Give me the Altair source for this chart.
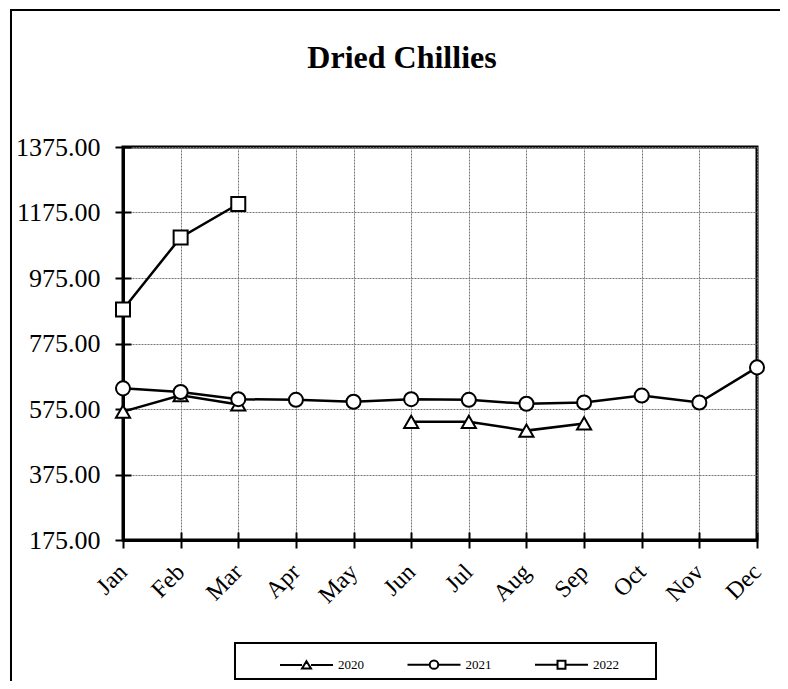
import altair as alt
import pandas as pd

months = ["Jan", "Feb", "Mar", "Apr", "May", "Jun", "Jul", "Aug", "Sep", "Oct", "Nov", "Dec"]
series_names = ["2020", "2021", "2022"]
v2020 = [567, 617, 589, None, None, 536, 536, 509, 531, None, None, None]
v2021 = [638, 627, 605, 603, 597, 605, 603, 591, 595, 616, 595, 702]
v2022 = [879, 1099, 1201, None, None, None, None, None, None, None, None, None]
y_ticks = [175, 375, 575, 775, 975, 1175, 1375]
title_text = "Dried Chillies"

rows = []
for name, vals in zip(series_names, [v2020, v2021, v2022]):
    for m, v in zip(months, vals):
        rows.append({"month": m, "series": name, "value": v})
df = pd.DataFrame(rows)
df["value"] = df["value"].astype(float)

FONT = "Liberation Serif"

x_scale = alt.Scale(type="point", padding=0, domain=months)
y_scale = alt.Scale(domain=[175, 1375], nice=False, zero=False)

x_main = alt.X(
    "month:N", scale=x_scale,
    axis=alt.Axis(
        title=None, labelAngle=315, labelAlign="right", labelBaseline="middle",
        labelFont=FONT, labelFontSize=24, labelColor="black", labelPadding=20,
        tickSize=8, tickColor="black", tickWidth=2,
        domainColor="black", domainWidth=3,
        grid=True, gridColor="#777777", gridDash=[2, 1], gridWidth=1,
    ),
)
y_main = alt.Y(
    "value:Q", scale=y_scale,
    axis=alt.Axis(
        title=None, values=y_ticks, format=".2f",
        labelFont=FONT, labelFontSize=26, labelColor="black", labelPadding=15,
        tickSize=8, tickColor="black", tickWidth=2,
        domainColor="black", domainWidth=3,
        grid=True, gridColor="#777777", gridDash=[2, 1], gridWidth=1,
    ),
)
x_plain = alt.X("month:N", scale=x_scale, axis=None)
y_plain = alt.Y("value:Q", scale=y_scale, axis=None)

lines = alt.Chart(df).mark_line(
    color="black", strokeWidth=2.5, invalid="break-paths-filter-domains"
).encode(x=x_main, y=y_main, detail="series:N")

# inner half of the crossing tick marks
inner_ticks = alt.Chart(df).transform_filter("false").mark_point(opacity=0).encode(
    x=alt.X("month:N", scale=x_scale, axis=alt.Axis(
        orient="bottom", offset=-8, labels=False, domain=False, grid=False,
        tickSize=8, tickColor="black", tickWidth=2, title=None)),
    y=alt.Y("value:Q", scale=y_scale, axis=alt.Axis(
        orient="left", offset=-8, values=y_ticks, labels=False, domain=False, grid=False,
        tickSize=8, tickColor="black", tickWidth=2, title=None)),
)

points = alt.Chart(df).mark_point(
    filled=True, fill="white", stroke="black", strokeWidth=2, opacity=1
).encode(
    x=x_plain, y=y_plain,
    shape=alt.Shape("series:N", scale=alt.Scale(domain=series_names, range=["triangle-up", "circle", "square"]), legend=None),
    size=alt.Size("series:N", scale=alt.Scale(domain=series_names, range=[200, 196, 81]), legend=None),
)

p2020 = "M-1,0H-0.17M0.17,0H1M0,-0.14L0.17,0.14L-0.17,0.14Z"
p2021 = "M-1,0H-0.16M0.16,0H1M-0.16,0A0.16,0.16 0 1,0 0.16,0A0.16,0.16 0 1,0 -0.16,0Z"
p2022 = "M-1,0H-0.15M0.15,0H1M-0.15,-0.15H0.15V0.15H-0.15Z"

legend_layer = alt.Chart(df).transform_filter("false").mark_point(
    filled=False, stroke="black", color="black", strokeWidth=2, opacity=1
).encode(
    x=x_plain, y=y_plain,
    shape=alt.Shape(
        "series:N",
        scale=alt.Scale(domain=series_names, range=[p2020, p2021, p2022]),
        legend=alt.Legend(
            title=None, orient="none", legendX=156, legendY=490, direction="horizontal",
            symbolSize=2809, symbolStrokeWidth=2, symbolStrokeColor="black",
            labelFont=FONT, labelFontSize=13,
            labelColor="black", labelOffset=4, columnPadding=39.5, padding=0,
        ),
    ),
)

box_df = pd.DataFrame({"k": [0]})
outer_top = alt.Chart(box_df).mark_rect(fill="black", strokeWidth=0).encode(
    x=alt.value(-113), x2=alt.value(660), y=alt.value(-138), y2=alt.value(-136)
)
outer_left = alt.Chart(box_df).mark_rect(fill="black", strokeWidth=0).encode(
    x=alt.value(-113), x2=alt.value(-111), y=alt.value(-138), y2=alt.value(534)
)
legend_box = alt.Chart(box_df).mark_rect(fillOpacity=0, stroke="black", strokeWidth=2).encode(
    x=alt.value(112), x2=alt.value(533), y=alt.value(496), y2=alt.value(532)
)
title = alt.Chart(box_df).mark_text(
    text=title_text, font=FONT, fontSize=32, fontWeight="bold", color="black",
    align="center", baseline="alphabetic",
).encode(x=alt.value(279), y=alt.value(-79))

chart = alt.layer(lines, inner_ticks, points, legend_layer, outer_top, outer_left, legend_box, title).resolve_scale(
    shape="independent", size="independent"
).resolve_axis(
    x="independent", y="independent"
).properties(
    width=634, height=393,
    padding={"left": 115, "top": 139, "right": 23, "bottom": 141},
    autosize=alt.AutoSizeParams(type="none"),
).configure_view(stroke="black", strokeWidth=3)

chart.save("out.html", embed_options={"renderer": "svg", "actions": False})
